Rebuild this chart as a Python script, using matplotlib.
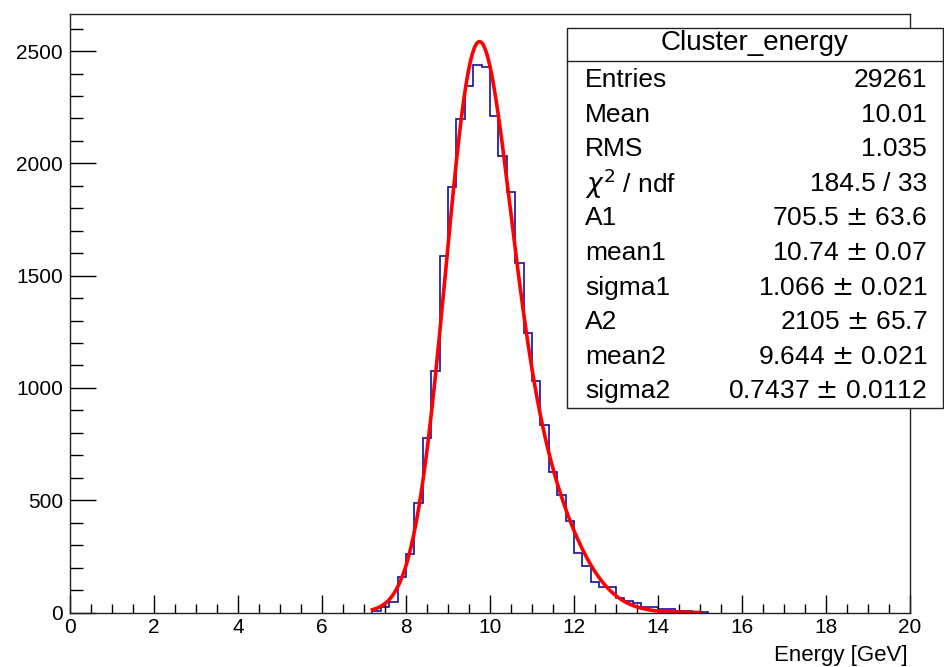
import numpy as np
import matplotlib
matplotlib.use("Agg")
import matplotlib.pyplot as plt
from matplotlib.patches import Rectangle
from matplotlib.ticker import MultipleLocator

plt.rcParams['font.family'] = ['Liberation Sans', 'DejaVu Sans']

# histogram: 0.2 GeV bins starting at 7.2 GeV
bin_start = 7.2
bin_width = 0.2
counts = [5, 23, 48, 160, 260, 489, 778, 1075, 1587, 1896,
          2197, 2344, 2439, 2430, 2210, 2032, 1871, 1555, 1243, 1031,
          833, 627, 523, 407, 266, 208, 137, 112, 112, 63,
          50, 41, 26, 26, 14, 14, 5, 5, 4, 3]

# double gaussian fit parameters (from stats box)
A1, mean1, sigma1 = 705.5, 10.74, 1.066
A2, mean2, sigma2 = 2105, 9.644, 0.7437
fit_range = (7.2, 15.0)

stat_labels = ["Entries", "Mean", "RMS", r"$\chi^{2}$ / ndf", "A1", "mean1",
               "sigma1", "A2", "mean2", "sigma2"]
stat_values = ["29261", "10.01", "1.035", "184.5 / 33", "705.5 $\\pm$ 63.6",
               "10.74 $\\pm$ 0.07", "1.066 $\\pm$ 0.021", "2105 $\\pm$ 65.7",
               "9.644 $\\pm$ 0.021", "0.7437 $\\pm$ 0.0112"]

W, H = 945, 667
fig = plt.figure(figsize=(W / 100, H / 100), dpi=100)
ax = fig.add_axes([70 / W, 1 - 612.5 / H, 840 / W, 598.5 / H])

edges = bin_start + bin_width * np.arange(len(counts) + 1)
ax.stairs(counts, edges, color='#10109c', linewidth=1.2)

xf = np.linspace(fit_range[0], fit_range[1], 400)
yf = (A1 * np.exp(-0.5 * ((xf - mean1) / sigma1) ** 2)
      + A2 * np.exp(-0.5 * ((xf - mean2) / sigma2) ** 2))
ax.plot(xf, yf, color='red', linewidth=2.6)

ax.set_xlim(0, 20)
ax.set_ylim(0, 2665)
ax.xaxis.set_major_locator(MultipleLocator(2))
ax.xaxis.set_minor_locator(MultipleLocator(0.5))
ax.yaxis.set_major_locator(MultipleLocator(500))
ax.yaxis.set_minor_locator(MultipleLocator(100))
ax.tick_params(axis='x', which='major', direction='in', length=13, width=1.0,
               labelsize=15, pad=4)
ax.tick_params(axis='x', which='minor', direction='in', length=6.5, width=1.0)
ax.tick_params(axis='y', which='major', direction='in', length=19, width=1.0,
               labelsize=15, pad=5)
ax.tick_params(axis='y', which='minor', direction='in', length=9, width=1.0)
for s in ax.spines.values():
    s.set_linewidth(1.0)
    s.set_color('#222222')

fig.text(908 / W, 1 - 655 / H, "Energy [GeV]", ha='right', va='center', fontsize=16)

# stats box
bx0, bx1, by0, by1 = 567, 943, 28, 408
fig.patches.append(Rectangle((bx0 / W, 1 - by1 / H), (bx1 - bx0) / W, (by1 - by0) / H,
                             transform=fig.transFigure, facecolor='white',
                             edgecolor='#222222', linewidth=1.0, zorder=5))
fig.lines.append(plt.Line2D([bx0 / W, bx1 / W], [1 - 61 / H, 1 - 61 / H],
                            transform=fig.transFigure, color='#222222',
                            linewidth=1.0, zorder=6))
fig.text((bx0 + bx1) / 2 / W, 1 - 43 / H, "Cluster_energy", ha='center',
         va='center', fontsize=20, zorder=7)
row_y0, row_dy = 80, 34.6
for i, (lab, val) in enumerate(zip(stat_labels, stat_values)):
    yy = 1 - (row_y0 + i * row_dy) / H
    fig.text(585 / W, yy, lab, ha='left', va='center', fontsize=19, zorder=7)
    fig.text(927 / W, yy, val, ha='right', va='center', fontsize=19, zorder=7)

# clipped text from below the canvas
fig.text(145 / W, 1 - 668 / H, "l", ha='left', va='top', fontsize=22, color='#555555')
fig.text(250 / W, 1 - 668 / H, "0.00000", ha='left', va='top', fontsize=22, color='#333333')

fig.savefig("out.png", dpi=100)
